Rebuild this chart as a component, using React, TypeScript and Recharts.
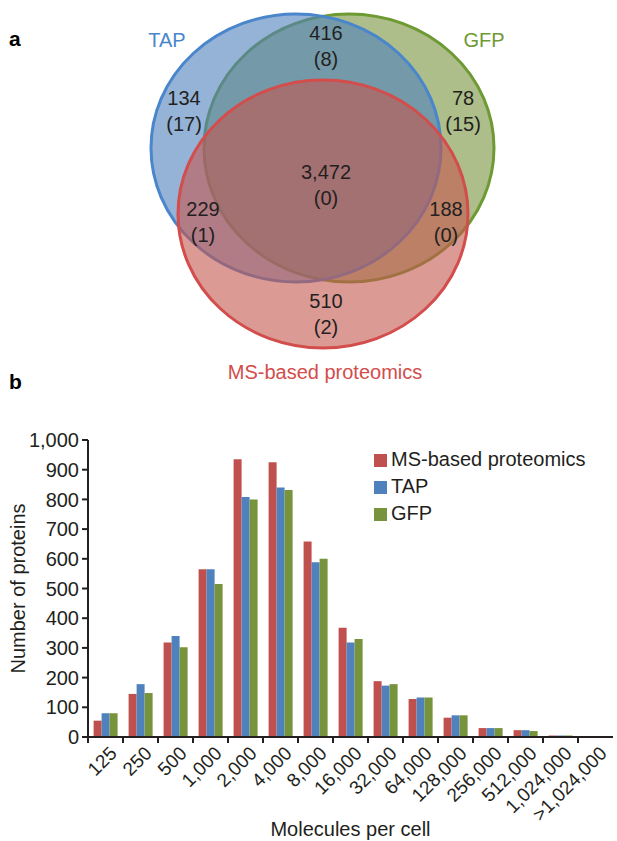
import {
  ScatterChart,
  Scatter,
  BarChart,
  Bar,
  XAxis,
  YAxis,
  Legend,
} from "recharts";

// panel a: Venn counts (unassigned in brackets)
const vennSets = ["TAP", "GFP", "MS-based proteomics"];
const vennRegions = ["TAP∩GFP", "TAP only", "GFP only", "all", "TAP∩MS", "GFP∩MS", "MS only"];
const vennCounts = [416, 134, 78, 3472, 229, 188, 510];
const vennUnassigned = [8, 17, 15, 0, 1, 0, 2];

// panel b: histogram
const categories = [
  "125", "250", "500", "1,000", "2,000", "4,000", "8,000", "16,000",
  "32,000", "64,000", "128,000", "256,000", "512,000", "1,024,000", ">1,024,000",
];
const msValues = [55, 145, 318, 565, 935, 925, 658, 368, 188, 128, 65, 30, 23, 5, 0];
const tapValues = [80, 178, 340, 565, 808, 840, 588, 318, 173, 133, 73, 30, 23, 5, 0];
const gfpValues = [80, 148, 302, 515, 800, 832, 600, 330, 178, 133, 73, 30, 20, 5, 0];
const yTicks = [0, 100, 200, 300, 400, 500, 600, 700, 800, 900, 1000];
const legendOrder = ["MS-based proteomics", "TAP", "GFP"];

const FONT = "'Liberation Sans', Arial, Helvetica, sans-serif";
const INK = "#231f20";
const RED = "#c0504d";
const BLUE = "#4f81bd";
const GREEN = "#77933c";

// venn layout (pixel units of the venn chart)
const circleLayout = [
  { x: 296, y: 148, stroke: "#4a86cb", fill: "#4f81bd" },
  { x: 349, y: 148, stroke: "#6e9a33", fill: "#77933c" },
  { x: 323, y: 214, stroke: "#d24d4b", fill: "#c5564f" },
];
const RX = 145;
const RY = 134;
const setLabelPos = [
  { x: 167, y: 40 },
  { x: 484, y: 40 },
  { x: 325, y: 372 },
];
const regionPos = [
  { x: 326, y: 33 },
  { x: 184, y: 98 },
  { x: 463, y: 98 },
  { x: 326, y: 172 },
  { x: 203, y: 209 },
  { x: 446, y: 209 },
  { x: 326, y: 301 },
];

const regionData = vennRegions.map((name, i) => ({
  name,
  count: vennCounts[i],
  unassigned: vennUnassigned[i],
  ...regionPos[i],
}));
const setData = vennSets.map((name, i) => ({ name, ...setLabelPos[i] }));

const barData = categories.map((c, i) => ({
  cat: c,
  ms: msValues[i],
  tap: tapValues[i],
  gfp: gfpValues[i],
}));

const drawOrder = [1, 0, 2]; // GFP under TAP under MS

function VennChart() {
  return (
    <ScatterChart width={617} height={385} margin={{ top: 0, right: 0, bottom: 0, left: 0 }}>
      <XAxis type="number" dataKey="x" domain={[0, 617]} allowDataOverflow hide />
      <YAxis type="number" dataKey="y" domain={[0, 385]} allowDataOverflow reversed hide />
      {drawOrder.map((i) => {
        const c = circleLayout[i];
        return (
          <Scatter
            key={vennSets[i]}
            data={[{ name: vennSets[i], x: c.x, y: c.y }]}
            isAnimationActive={false}
            shape={(p: any) => (
              <ellipse
                cx={p.cx}
                cy={p.cy}
                rx={RX}
                ry={RY}
                fill={c.fill}
                fillOpacity={0.6}
                stroke={c.stroke}
                strokeWidth={3}
              />
            )}
          />
        );
      })}
      <Scatter
        data={regionData}
        isAnimationActive={false}
        shape={(p: any) => (
          <g>
            <text x={p.cx} y={p.cy} textAnchor="middle" dominantBaseline="central"
              fontFamily={FONT} fontSize={20} fill={INK}>
              {p.payload.count.toLocaleString("en-US")}
            </text>
            <text x={p.cx} y={p.cy + 26} textAnchor="middle" dominantBaseline="central"
              fontFamily={FONT} fontSize={20} fill={INK}>
              ({p.payload.unassigned})
            </text>
          </g>
        )}
      />
      <Scatter
        data={setData}
        isAnimationActive={false}
        shape={(p: any) => {
          const idx = vennSets.indexOf(p.payload.name);
          return (
            <text x={p.cx} y={p.cy} textAnchor="middle" dominantBaseline="central"
              fontFamily={FONT} fontSize={20} fill={circleLayout[idx].stroke}>
              {p.payload.name}
            </text>
          );
        }}
      />
    </ScatterChart>
  );
}

const XTick = (props: any) => {
  const { x, y, payload } = props;
  const half = payload && payload.offset ? payload.offset : 0;
  return (
    <g>
      <line x1={x - half} x2={x - half} y1={y - 6} y2={y} stroke={INK} strokeWidth={2} />
      <text
        x={x + 3}
        y={y + 2}
        transform={`rotate(-45 ${x + 3} ${y + 2})`}
        textAnchor="end"
        dy="0.71em"
        fontFamily={FONT}
        fontSize={19}
        fill={INK}
      >
        {payload.value}
      </text>
    </g>
  );
};

function HistogramChart() {
  return (
    <BarChart
      width={617}
      height={456}
      data={barData}
      margin={{ top: 55, right: 4, bottom: 0, left: 0 }}
      barCategoryGap="16%"
      barGap={0}
    >
      <XAxis
        dataKey="cat"
        interval={0}
        height={104}
        tickSize={6}
        tickMargin={0}
        tickLine={false}
        axisLine={{ stroke: INK, strokeWidth: 2 }}
        tick={<XTick />}
        label={{
          value: "Molecules per cell",
          position: "insideBottom",
          offset: 5,
          style: { fontFamily: FONT, fontSize: 20, fill: INK },
        }}
      />
      <YAxis
        domain={[0, 1000]}
        ticks={yTicks}
        interval={0}
        width={88}
        tickSize={6}
        tickMargin={3}
        tickFormatter={(v: number) => v.toLocaleString("en-US")}
        axisLine={{ stroke: INK, strokeWidth: 2 }}
        tickLine={{ stroke: INK, strokeWidth: 2 }}
        tick={{ fontFamily: FONT, fontSize: 20, fill: INK }}
        label={{
          value: "Number of proteins",
          angle: -90,
          position: "insideLeft",
          offset: 18,
          style: { fontFamily: FONT, fontSize: 20, fill: INK, textAnchor: "middle" },
        }}
      />
      <Legend
        layout="vertical"
        align="center"
        verticalAlign="middle"
        iconType="square"
        iconSize={13}
        itemSorter={(item: any) => legendOrder.indexOf(item.value)}
        formatter={(value: string) => <span style={{ color: INK }}>{value}</span>}
        wrapperStyle={{
          top: 61,
          left: 374,
          width: "auto",
          fontFamily: FONT,
          fontSize: 20,
          lineHeight: "27px",
        }}
      />
      <Bar dataKey="ms" name="MS-based proteomics" fill={RED} isAnimationActive={false} />
      <Bar dataKey="tap" name="TAP" fill={BLUE} isAnimationActive={false} />
      <Bar dataKey="gfp" name="GFP" fill={GREEN} isAnimationActive={false} />
    </BarChart>
  );
}

export default function App() {
  const panelLetter = { position: "absolute" as const, left: 9, fontFamily: FONT, fontWeight: 700, fontSize: 21, color: "#000" };
  return (
    <div style={{ position: "absolute", left: 0, top: 0, width: 617, height: 841, background: "#fff" }}>
      <div style={{ position: "absolute", left: 0, top: 0 }}>
        <VennChart />
      </div>
      <div style={{ position: "absolute", left: 0, top: 385 }}>
        <HistogramChart />
      </div>
      <div style={{ ...panelLetter, top: 27 }}>a</div>
      <div style={{ ...panelLetter, top: 370 }}>b</div>
    </div>
  );
}
